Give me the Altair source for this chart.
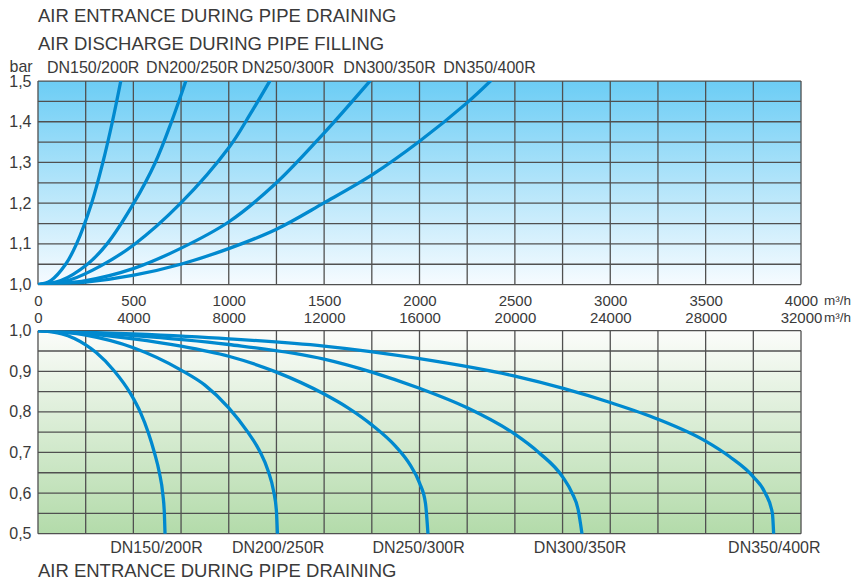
import altair as alt
import pandas as pd

FONT = "Liberation Sans"
TXT = "#3a3a3a"
BLUE = "#0089cf"
GRID = "#505050"

# ---------------- data ----------------
series = ["DN150/200R", "DN200/250R", "DN250/300R", "DN300/350R", "DN350/400R"]

# Air discharge during pipe filling: flow (m3/h) vs pressure (bar)
fill_q = [
    [0, 67, 145, 202, 281, 340, 390, 434],
    [0, 120, 259, 362, 502, 615, 700, 775],
    [0, 170, 329, 503, 748, 1003, 1114, 1215],
    [0, 250, 503, 748, 1003, 1250, 1497, 1740],
    [0, 250, 503, 748, 1003, 1250, 1497, 1753, 2000, 2250, 2372],
]
fill_p = [
    [1.0, 1.01, 1.05, 1.1, 1.2, 1.3, 1.4, 1.5],
    [1.0, 1.01, 1.05, 1.1, 1.2, 1.3, 1.4, 1.5],
    [1.0, 1.012, 1.046, 1.098, 1.2, 1.338, 1.42, 1.5],
    [1.0, 1.01, 1.04, 1.089, 1.155, 1.25, 1.371, 1.5],
    [1.0, 1.006, 1.023, 1.05, 1.089, 1.136, 1.2, 1.27, 1.352, 1.447, 1.5],
]

# Air entrance during pipe draining: flow (m3/h) vs pressure (bar)
drain_q = [
    [0, 1000, 2000, 2441, 3208, 3870, 4300, 4620, 4881, 5091, 5230, 5300, 5328],
    [0, 2000, 4000, 6000, 7000, 8000, 8800, 9300, 9650, 9880, 10000, 10042],
    [0, 2000, 4000, 6000, 8000, 10000, 12000, 13000, 14000, 15000, 15600, 16000, 16250, 16354],
    [0, 4000, 8000, 12000, 14000, 16000, 18000, 20000, 21000, 22000, 22400, 22650, 22814],
    [0, 4000, 8000, 12000, 16000, 20000, 24000, 26000, 28000, 29000, 30000, 30500, 30800, 30852],
]
drain_p = [
    [1.0, 0.992, 0.965, 0.946, 0.9, 0.846, 0.798, 0.75, 0.7, 0.65, 0.6, 0.55, 0.5],
    [1.0, 0.989, 0.958, 0.903, 0.866, 0.81, 0.75, 0.703, 0.655, 0.605, 0.555, 0.5],
    [1.0, 0.993, 0.98, 0.962, 0.937, 0.898, 0.844, 0.81, 0.768, 0.715, 0.67, 0.625, 0.575, 0.5],
    [1.0, 0.988, 0.966, 0.93, 0.898, 0.858, 0.81, 0.745, 0.70, 0.64, 0.60, 0.56, 0.5],
    [1.0, 0.992, 0.98, 0.962, 0.931, 0.888, 0.823, 0.782, 0.728, 0.69, 0.64, 0.60, 0.55, 0.5],
]

# label positions (flow units of each panel)
fill_label_q = [289, 809, 1311, 1843, 2367]
drain_label_q = [4969, 10071, 15962, 22734, 30880]

# axes
fill_x_ticks = [0, 500, 1000, 1500, 2000, 2500, 3000, 3500, 4000]
drain_x_ticks = [0, 4000, 8000, 12000, 16000, 20000, 24000, 28000, 32000]
fill_y_ticks = [1.0, 1.1, 1.2, 1.3, 1.4, 1.5]
drain_y_ticks = [0.5, 0.6, 0.7, 0.8, 0.9, 1.0]
fill_x_grid = [250 * i for i in range(17)]
drain_x_grid = [2000 * i for i in range(17)]
fill_y_grid = [round(1.0 + 0.05 * i, 2) for i in range(11)]
drain_y_grid = [round(0.5 + 0.05 * i, 2) for i in range(11)]

title_top_1 = "AIR ENTRANCE DURING PIPE DRAINING"
title_top_2 = "AIR DISCHARGE DURING PIPE FILLING"
title_bottom = "AIR ENTRANCE DURING PIPE DRAINING"
unit = "m³/h"

W = 763.2
H_TOP = 203.6
H_BOT = 203


def long_df(qs, ps):
    rows = []
    for name, q, p in zip(series, qs, ps):
        for a, b in zip(q, p):
            rows.append({"series": name, "q": a, "p": b})
    return pd.DataFrame(rows)


def one(**kw):
    return pd.DataFrame([kw])


def panel(qs, ps, xdom, ydom, xgrid, ygrid, xticks, yticks, stops, x_orient, x_pad, ytitle, height, interp):
    xs = alt.Scale(domain=xdom, nice=False, zero=False)
    ys = alt.Scale(domain=ydom, nice=False, zero=False)
    xaxis = alt.Axis(
        orient=x_orient, values=xticks, title=None, grid=False, ticks=False, tickSize=0,
        domain=False, labelFontSize=15, labelColor=TXT, labelFont=FONT,
        labelBaseline="alphabetic", labelPadding=x_pad, labelFlush=False, labelOverlap=False,
        format="d",
    )
    yargs = dict(
        values=yticks, grid=False, ticks=False, tickSize=0, domain=False,
        labelFontSize=16, labelColor=TXT, labelFont=FONT, labelPadding=7,
        labelExpr="replace(format(datum.value, '.1f'), '.', ',')",
    )
    if ytitle:
        yargs.update(title=ytitle, titleAngle=0, titleAlign="left", titleBaseline="alphabetic",
                     titleX=-29, titleY=-10, titleFontSize=16, titleFontWeight="normal",
                     titleColor=TXT, titleFont=FONT)
    else:
        yargs.update(title=None)
    yaxis = alt.Axis(**yargs)

    bg = alt.Chart(one(x0=xdom[0], x1=xdom[1], y0=ydom[0], y1=ydom[1])).mark_rect(
        fill=alt.LinearGradient(
            gradient="linear",
            stops=[alt.GradientStop(offset=0, color=stops[0]), alt.GradientStop(offset=1, color=stops[1])],
            x1=0, x2=0, y1=0, y2=1,
        ),
        strokeWidth=0,
    ).encode(
        x=alt.X("x0:Q", scale=xs, axis=xaxis), x2="x1",
        y=alt.Y("y0:Q", scale=ys, axis=yaxis), y2="y1",
    )
    vgrid = alt.Chart(pd.DataFrame({"g": xgrid})).mark_rule(color=GRID, strokeWidth=1.3).encode(
        x=alt.X("g:Q", scale=xs)
    )
    hgrid = alt.Chart(pd.DataFrame({"g": ygrid})).mark_rule(color=GRID, strokeWidth=1.3).encode(
        y=alt.Y("g:Q", scale=ys)
    )
    lines = alt.Chart(long_df(qs, ps)).mark_line(
        color=BLUE, strokeWidth=3.3, interpolate=interp, strokeCap="round", clip=True
    ).encode(
        x=alt.X("q:Q", scale=xs), y=alt.Y("p:Q", scale=ys), detail="series:N"
    )
    return alt.layer(bg, vgrid, hgrid, lines).properties(width=W, height=height)


top = panel(fill_q, fill_p, [0, 4000], [1.0, 1.5], fill_x_grid, fill_y_grid, fill_x_ticks, fill_y_ticks,
            ["#6ccdf5", "#f6fbff"], "bottom", 20.7, "bar", H_TOP, "catmull-rom")
bot = panel(drain_q, drain_p, [0, 32000], [0.5, 1.0], drain_x_grid, drain_y_grid, drain_x_ticks, drain_y_ticks,
            ["#fbfcfa", "#b3dbaa"], "top", 8.3, None, H_BOT, "monotone")

txt = dict(font=FONT, fontSize=16, color=TXT, baseline="alphabetic")
big = {**txt, "fontSize": 18.5}
small = {**txt, "fontSize": 13.5}

top_labels = alt.Chart(pd.DataFrame({"name": series, "q": fill_label_q})).mark_text(dy=-7.7, **txt).encode(
    x="q:Q", y=alt.datum(1.5), text="name:N"
)
t1 = alt.Chart(one(t=title_top_1)).mark_text(align="left", dy=-59, **big).encode(
    x=alt.datum(0), y=alt.datum(1.5), text="t:N"
)
t2 = alt.Chart(one(t=title_top_2)).mark_text(align="left", dy=-31, **big).encode(
    x=alt.datum(0), y=alt.datum(1.5), text="t:N"
)
u1 = alt.Chart(one(t=unit)).mark_text(align="left", dx=23, dy=20.7, **small).encode(
    x=alt.datum(4000), y=alt.datum(1.0), text="t:N"
)
top = alt.layer(top, top_labels, t1, t2, u1)

bot_labels = alt.Chart(pd.DataFrame({"name": series, "q": drain_label_q})).mark_text(dy=19.7, **txt).encode(
    x="q:Q", y=alt.datum(0.5), text="name:N"
)
tb = alt.Chart(one(t=title_bottom)).mark_text(align="left", dy=43, **big).encode(
    x=alt.datum(0), y=alt.datum(0.5), text="t:N"
)
u2 = alt.Chart(one(t=unit)).mark_text(align="left", dx=23, dy=-8.3, **small).encode(
    x=alt.datum(32000), y=alt.datum(1.0), text="t:N"
)
bot = alt.layer(bot, bot_labels, tb, u2)

chart = alt.vconcat(top, bot, spacing=45.7, bounds="flush").properties(
    padding={"left": 0, "top": -1, "right": 0, "bottom": 0},
    background="white",
).configure_view(stroke=None)

chart.save("out.html", embed_options={"renderer": "svg", "actions": False})
